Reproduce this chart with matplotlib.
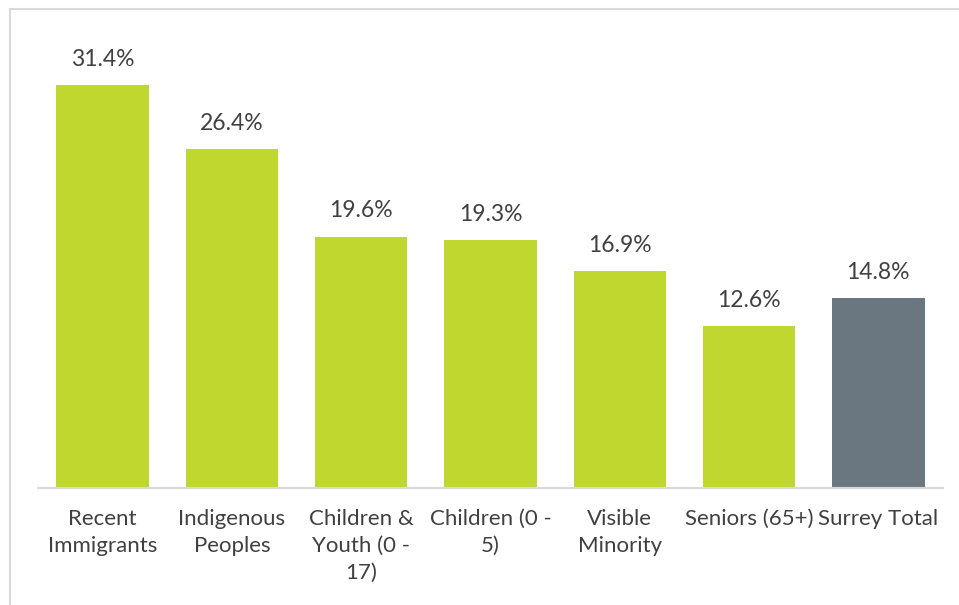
import matplotlib.pyplot as plt

# Data
categories = ['Recent\nImmigrants', 'Indigenous\nPeoples', 'Children &\nYouth (0 -\n17)',
              'Children (0 -\n5)', 'Visible\nMinority', 'Seniors (65+)', 'Surrey Total']
values = [31.4, 26.4, 19.6, 19.3, 16.9, 12.6, 14.8]
colors = ['#C0D72F'] * 6 + ['#6B7780']

plt.rcParams['font.family'] = ['Lato', 'DejaVu Sans']

fig = plt.figure(figsize=(9.59, 6.05), dpi=100)
ax = fig.add_axes([38 / 959, 117 / 605, 905 / 959, 449 / 605])

x = range(len(values))
bars = ax.bar(x, values, width=0.714, color=colors)

for xi, v in zip(x, values):
    ax.annotate(f'{v}%', (xi, v), xytext=(0, 11), textcoords='offset points',
                ha='center', va='bottom', fontsize=16.5, color='#404040')

ax.set_xlim(-0.5, 6.5)
ax.set_ylim(0, 35)
ax.set_yticks([])
ax.set_xticks(list(x))
ax.set_xticklabels(categories, fontsize=16, color='#404040', linespacing=1.45)
ax.tick_params(axis='x', length=0, pad=15)
for s in ['top', 'right', 'left']:
    ax.spines[s].set_visible(False)
ax.spines['bottom'].set_color('#D9D9D9')
ax.spines['bottom'].set_linewidth(1.5)

# outer border (top and left only visible)
fig.add_artist(plt.Line2D([9.5 / 959, 1], [1 - 9 / 605, 1 - 9 / 605], color='#D9D9D9', lw=1.5))
fig.add_artist(plt.Line2D([9.5 / 959, 9.5 / 959], [0, 1 - 9 / 605], color='#D9D9D9', lw=1.5))

fig.savefig('out.png', dpi=100)
